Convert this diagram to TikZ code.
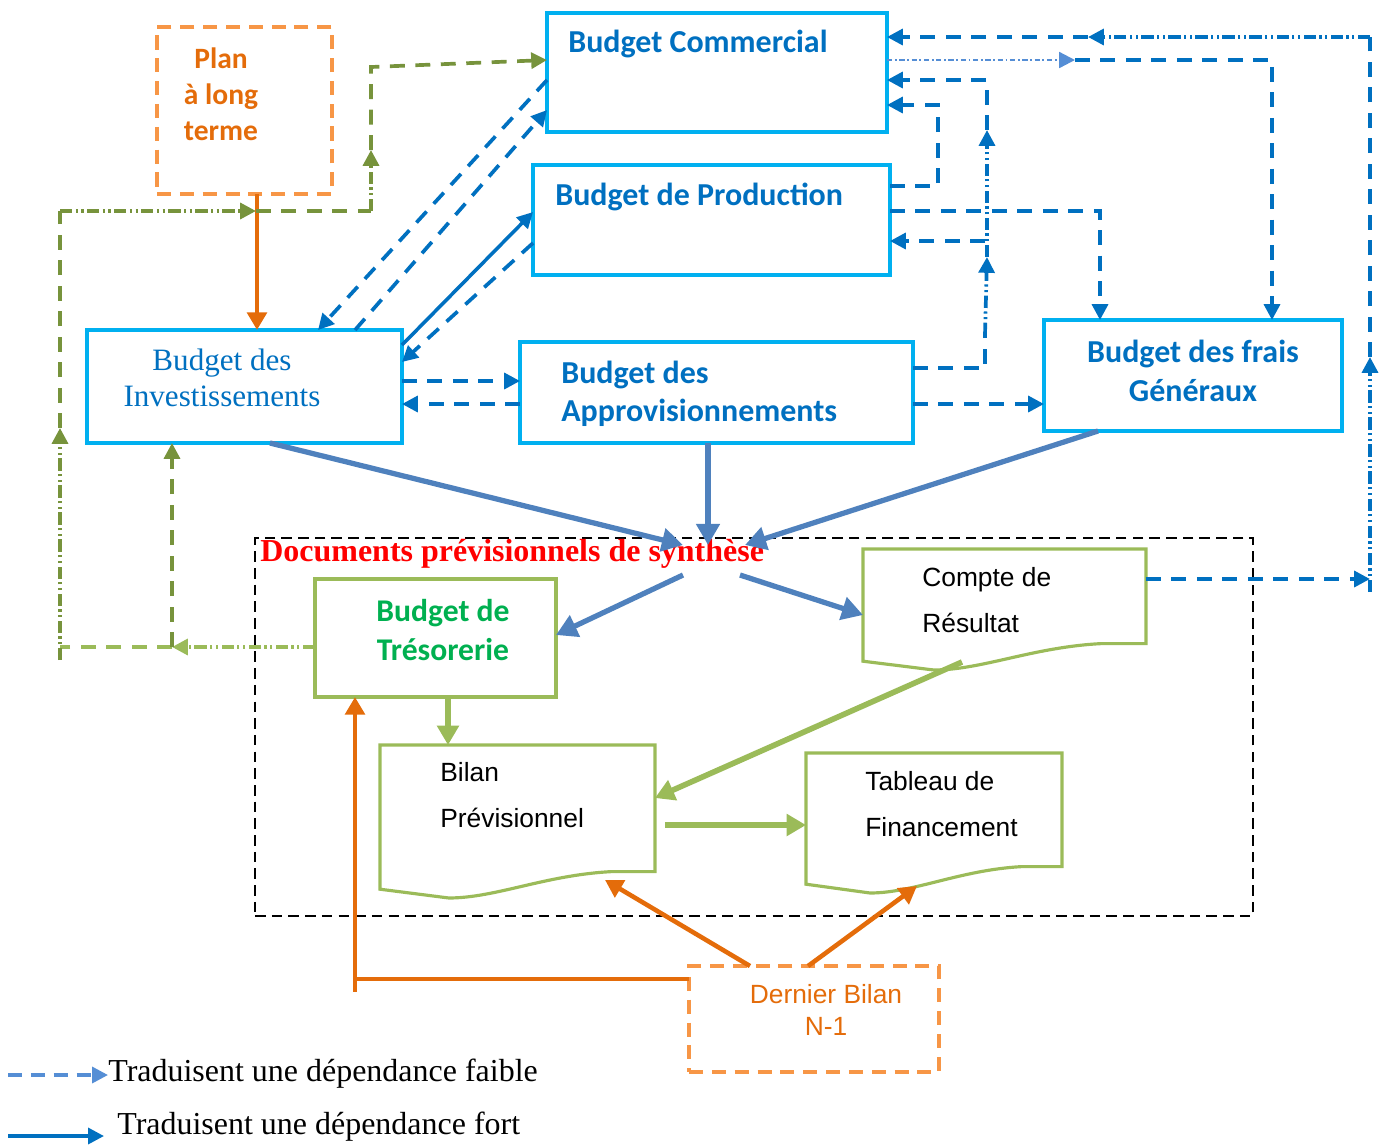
\documentclass[tikz,border=0pt]{standalone}
\usepackage{fontspec}
\setmainfont{Liberation Serif}
\newfontfamily\calib{Carlito}
\newfontfamily\arial{Liberation Sans}
\usetikzlibrary{arrows.meta,calc}
\definecolor{cyanbord}{HTML}{00B0F0}
\definecolor{bleu}{HTML}{0070C0}
\definecolor{bleuacier}{HTML}{4F81BD}
\definecolor{bleuclair}{HTML}{558ED5}
\definecolor{vert}{HTML}{9BBB59}
\definecolor{olive}{HTML}{77933C}
\definecolor{verttxt}{HTML}{00B050}
\definecolor{orangef}{HTML}{E46C0A}
\definecolor{orangeclair}{HTML}{F79646}
% contour d'un document (bas ondule)
\newcommand\docbord[1]{%
  \draw[docbord] (#1.north west) -- (#1.north east) -- ([yshift=15pt]#1.south east)
    -- ($(#1.south west)!0.84!(#1.south east)+(0pt,15pt)$)
    .. controls ($(#1.south west)!0.6!(#1.south east)+(0pt,13pt)$) and ($(#1.south west)!0.42!(#1.south east)$)
    .. ($(#1.south west)!0.25!(#1.south east)$) -- ([yshift=5pt]#1.south west) -- cycle;}
\begin{document}
\begin{tikzpicture}[x=0.02cm, y=-0.02cm,
  budget/.style={draw=cyanbord, line width=1.8pt, inner sep=0pt, outer sep=0pt},
  doc/.style={inner sep=0pt, outer sep=0pt},
  docbord/.style={draw=vert, line width=1.8pt, line join=miter},
  tirets/.style={draw=orangeclair, line width=1.8pt, dash pattern=on 8pt off 5pt, inner sep=0pt, outer sep=0pt},
  bt/.style={text=bleu, font=\calib\bfseries\fontsize{18.2}{21.5}\selectfont, inner sep=0pt},
  arialtx/.style={font=\arial\fontsize{15}{26}\selectfont, inner sep=0pt, anchor=west, align=left},
  pointe/.style={-{Triangle[length=9pt,width=9pt]}},
  pointille/.style={dash pattern=on 7pt off 2pt on 1.2pt off 2pt on 1.2pt off 2pt},
  faible/.style={bleu, line width=2.1pt, dash pattern=on 8.5pt off 6pt, pointe},
  fort/.style={bleu, line width=2pt, pointe},
  vfaible/.style={olive, line width=2.1pt, dash pattern=on 8.5pt off 6pt},
  vpoint/.style={olive, line width=2.1pt, pointille},
  acier/.style={bleuacier, line width=3pt, -{Triangle[length=12pt,width=13pt]}},
  vertfort/.style={vert, line width=3.2pt, -{Triangle[length=11pt,width=12pt]}},
  orangefort/.style={orangef, line width=2.6pt, -{Triangle[length=10pt,width=11pt]}}]
\useasboundingbox (0,0) rectangle (1387,1144);

% cadre des documents de synthese
\node[draw, line width=1.3pt, dash pattern=on 6pt off 3.5pt, minimum width=19.96cm, minimum height=7.56cm, inner sep=0pt, outer sep=0pt] (synth) at (754,727) {};
\node[anchor=west, inner sep=0pt, text=red, font=\bfseries\fontsize{18.2}{21}\selectfont] (titre) at (260,554) {Documents prévisionnels de synthèse};

% budgets
\node[tirets, minimum width=3.5cm, minimum height=3.34cm] (plan) at (244.5,110.5) {};
\node[font=\calib\bfseries\fontsize{16.8}{20.5}\selectfont, text=orangef, align=center, inner sep=0pt] (plantx) at (221,94) {Plan\\à long\\terme};
\node[budget, minimum width=6.8cm, minimum height=2.38cm] (com) at (717,72.5) {};
\node[bt, anchor=west] (comtx) at (568,44) {Budget Commercial};
\node[budget, minimum width=7.14cm, minimum height=2.2cm] (prod) at (711.5,220) {};
\node[bt, anchor=west] (prodtx) at (555,197) {Budget de Production};
\node[budget, minimum width=6.3cm, minimum height=2.26cm] (inv) at (244.5,386.5) {};
\node[text=bleu, font=\fontsize{17.7}{20.5}\selectfont, align=center, inner sep=0pt] (invtx) at (222,378) {Budget des\\Investissements};
\node[budget, minimum width=7.86cm, minimum height=2.02cm] (appro) at (716.5,392.5) {};
\node[bt, anchor=west, align=left] (approtx) at (561,394) {Budget des\\Approvisionnements};
\node[budget, minimum width=5.96cm, minimum height=2.22cm] (frais) at (1193,375.5) {};
\node[bt, align=center, font=\calib\bfseries\fontsize{18.2}{22}\selectfont] (fraistx) at (1193,371) {Budget des frais\\Généraux};

% documents
\node[draw=vert, line width=1.8pt, inner sep=0pt, outer sep=0pt, minimum width=4.82cm, minimum height=2.36cm] (treso) at (435.5,638) {};
\node[text=verttxt, font=\calib\bfseries\fontsize{18}{22}\selectfont, align=center, inner sep=0pt] (tresotx) at (443,630) {Budget de\\Trésorerie};
\node[doc, minimum width=5.66cm, minimum height=2.42cm] (compte) at (1004.5,609.5) {};
\docbord{compte}
\node[arialtx] (comptetx) at (922,600) {Compte de\\Résultat};
\node[doc, minimum width=5.5cm, minimum height=3.06cm] (bilan) at (517.5,821.5) {};
\docbord{bilan}
\node[arialtx] (bilantx) at (440,795) {Bilan\\Prévisionnel};
\node[doc, minimum width=5.12cm, minimum height=2.8cm] (tableau) at (934,823) {};
\docbord{tableau}
\node[arialtx] (tableautx) at (865,804) {Tableau de\\Financement};
\node[tirets, minimum width=5cm, minimum height=2.12cm] (dernier) at (814,1019) {};
\node[text=orangef, font=\arial\fontsize{15}{18}\selectfont, align=center, inner sep=0pt] (derniertx) at (826,1010) {Dernier Bilan\\N-1};

% plan -> investissements
\draw[orangefort] (257,0 |- plan.south) -- (257,0 |- inv.north);

% tresorerie -> investissements et commercial
\coordinate (g1) at (172,647);
\coordinate (g2) at (60,660);
\coordinate (g3) at (60,211);
\coordinate (g4) at (371,211);
\coordinate (g5) at (371,67);
\draw[vpoint, draw=vert, pointe] (treso.west |- g1) -- (g1);
\draw[vfaible, draw=vert] (g1) -- (60,647);
\draw[vpoint, pointe] (g2) -- (60,428);
\draw[vfaible] (60,428) -- (g3);
\draw[vpoint, pointe] (g3) -- (256,211);
\draw[vfaible] (256,211) -- (g4);
\draw[vpoint, pointe] (g4) -- (371,150);
\draw[vfaible, pointe] (371,150) -- (g5) -- (com.west |- 0,60);
\draw[vfaible, pointe] (g1) -- (g1 |- inv.south);

% commercial, production, approvisionnements <-> investissements
\draw[faible] (com.west |- 0,80) -- (318,0 |- inv.north);
\draw[faible] (355,0 |- inv.north) -- (com.west |- 0,110);
\draw[fort] (inv.east |- 0,345) -- (prod.west |- 0,212);
\draw[faible] (prod.west |- 0,243) -- (inv.east |- 0,362);
\draw[faible] (inv.east |- 0,381) -- (appro.west |- 0,381);
\draw[faible] (appro.west |- 0,404) -- (inv.east |- 0,404);

% compte de resultat -> commercial
\coordinate (r1) at (1370,579);
\coordinate (r2) at (1370,37);
\draw[faible] (compte.east |- r1) -- (r1);
\draw[faible, pointille] (1370,592) -- (1370,357);
\draw[faible, -] (1370,357) -- (r2);
\draw[faible, pointille] (r2) -- (1088,37);
\draw[faible] (1088,37) -- (com.east |- r2);

% commercial -> frais generaux
\draw[bleuclair, line width=1.3pt, dash pattern=on 3pt off 1.5pt on 1pt off 1.5pt, pointe] (com.east |- 0,60) -- (1075,60);
\draw[faible] (1075,60) -| (1272,0 |- frais.north);

% production -> commercial et frais generaux
\draw[faible] (prod.east |- 0,186) -| (938,105) -- (com.east |- 0,105);
\draw[faible] (prod.east |- 0,211) -| (1100,0 |- frais.north);

% approvisionnements -> commercial, production, frais generaux
\draw[faible, -] (appro.east |- 0,368) -- (985,368) -- (985,335);
\draw[faible, pointille] (985,335) -- (987,257);
\draw[faible, pointille] (987,257) -- (987,130);
\draw[faible] (987,130) |- (com.east |- 0,80);
\draw[faible] (985,241) -- (prod.east |- 0,241);
\draw[faible] (appro.east |- 0,404) -- (frais.west |- 0,404);

% vers les documents de synthese
\coordinate (s1) at (683,545);
\coordinate (s2) at (708,545);
\coordinate (s3) at (745,545);
\coordinate (s4) at (683,575);
\coordinate (s5) at (740,575);
\draw[acier] (270,0 |- inv.south) -- (s1);
\draw[acier] (708,0 |- appro.south) -- (s2);
\draw[acier] (1098,0 |- frais.south) -- (s3);
\draw[acier] (s4) -- (treso.east |- 0,635);
\draw[acier] (s5) -- (compte.west |- 0,615);

% liaisons entre documents
\draw[vertfort] (448,0 |- treso.south) -- (448,0 |- bilan.north);
\draw[vertfort] (962,662) -- (bilan.east |- 0,798);
\draw[vertfort] ($(bilan.east |- 0,825)+(10,0)$) -- (tableau.west |- 0,825);

% dernier bilan
\draw[orangefort] (750,0 |- dernier.north) -- ($(bilan.south -| 605,0)+(0,-18)$);
\draw[orangefort] (808,0 |- dernier.north) -- ($(tableau.south -| 917,0)+(0,-7)$);
\draw[orangefort] (dernier.west |- 0,979) -| (355,0 |- treso.south);
\draw[orangef, line width=2.6pt] (355,979) -- (355,992);

% legende
\node[anchor=west, inner sep=0pt, font=\fontsize{18.2}{21}\selectfont] (leg1) at (108,1074) {Traduisent une dépendance faible};
\node[anchor=west, inner sep=0pt, font=\fontsize{18.2}{21}\selectfont] (leg2) at (117,1127) {Traduisent une dépendance fort};
\coordinate (l1) at (8,1075);
\coordinate (l2) at (8,1136);
\draw[bleuclair, line width=2pt, dash pattern=on 8pt off 5pt, pointe] (l1) -- (leg1.west |- l1);
\draw[fort] (l2) -- ($(leg2.west |- l2)+(-13,0)$);
\end{tikzpicture}
\end{document}
